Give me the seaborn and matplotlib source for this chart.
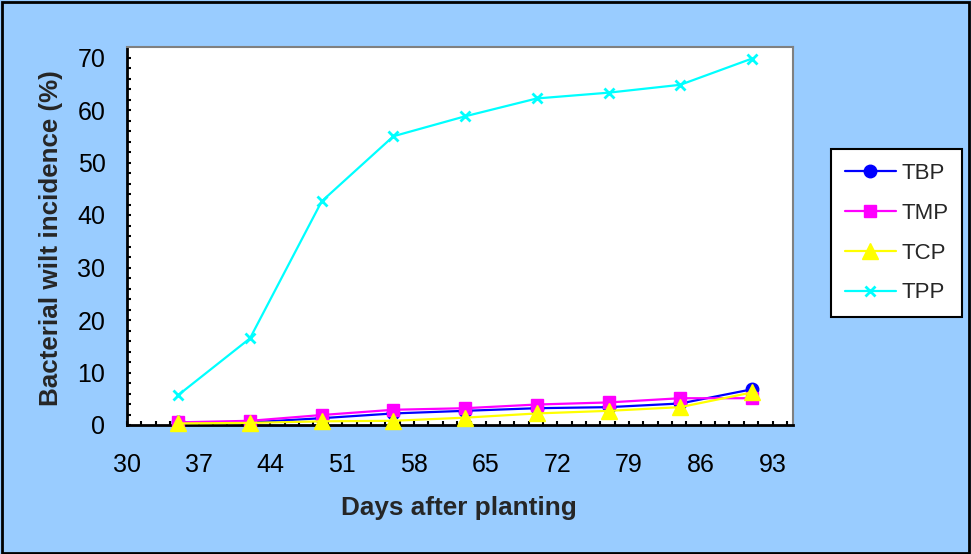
import numpy as np
import pandas as pd
import seaborn as sns
import matplotlib
matplotlib.use("Agg")
import matplotlib.pyplot as plt
from matplotlib.ticker import FixedLocator
from matplotlib.patches import Rectangle

# Days after planting and bacterial wilt incidence (%) per treatment
days = [35, 42, 49, 56, 63, 70, 77, 84, 91]
tbp = [0.5, 0.5, 1.3, 2.2, 2.7, 3.2, 3.4, 4.1, 6.8]
tmp = [0.5, 0.8, 1.9, 2.9, 3.2, 3.9, 4.3, 5.1, 5.1]
tcp = [0.3, 0.4, 0.7, 0.8, 1.4, 2.2, 2.7, 3.4, 6.2]
tpp = [5.7, 16.5, 42.6, 55.0, 58.8, 62.2, 63.3, 64.8, 69.8]

series_names = ["TBP", "TMP", "TCP", "TPP"]
series_values = [tbp, tmp, tcp, tpp]
colors = ["#0000FF", "#FF00FF", "#FFFF00", "#00FFFF"]
markers = ["o", "s", "^", "x"]
marker_sizes = [9, 8.5, 11, 7]

x_ticks = list(range(30, 94, 7))
y_ticks = list(range(0, 71, 10))

sns.set_theme(style="white")
plt.rcParams["font.family"] = ["Liberation Sans", "DejaVu Sans"]

BG = "#99CCFF"
fig = plt.figure(figsize=(9.71, 5.54), dpi=100, facecolor=BG)
ax = fig.add_axes([127 / 971, 1 - 425 / 554, (793 - 127) / 971, (425 - 47) / 554])
ax.set_facecolor("white")

for name, vals, col, mk, ms in zip(series_names, series_values, colors, markers, marker_sizes):
    df = pd.DataFrame({"day": days, "incidence": vals})
    sns.lineplot(data=df, x="day", y="incidence", ax=ax, color=col, marker=mk,
                 markersize=ms, markeredgecolor=col, markeredgewidth=2 if mk == "x" else 1,
                 linewidth=1.6, label=name, clip_on=False, zorder=3)

ax.set_xlim(30, 95)
ax.set_ylim(0, 72)
ax.xaxis.set_major_locator(FixedLocator(x_ticks))
ax.yaxis.set_major_locator(FixedLocator(y_ticks))
ax.xaxis.set_minor_locator(FixedLocator(np.arange(30, 95, 1.4)))
ax.yaxis.set_minor_locator(FixedLocator(np.arange(0, 72, 2)))
ax.xaxis.remove_overlapping_locs = False
ax.yaxis.remove_overlapping_locs = False

ax.tick_params(axis="both", which="major", direction="out", length=6.5, width=1.5,
               color="black", labelsize=18, labelcolor="black")
ax.tick_params(axis="x", which="major", pad=14)
ax.tick_params(axis="y", which="major", pad=9)
ax.tick_params(axis="both", which="minor", direction="in", length=3, width=1.5,
               color="black", bottom=True, left=True)

for side in ["left", "bottom"]:
    ax.spines[side].set_color("black")
    ax.spines[side].set_linewidth(2)
for side in ["top", "right"]:
    ax.spines[side].set_color("#808080")
    ax.spines[side].set_linewidth(1.5)

ax.set_xlabel("")
ax.set_ylabel("")
fig.text(51 / 971, 1 - 238 / 554, "Bacterial wilt incidence (%)", rotation=90,
         ha="center", va="center", fontsize=18.7, fontweight="bold")
fig.text(459 / 971, 1 - 508 / 554, "Days after planting", ha="center", va="center",
         fontsize=18.8, fontweight="bold")

leg = ax.legend(loc="upper left", bbox_to_anchor=(831 / 971, 1 - 149 / 554),
                bbox_transform=fig.transFigure, frameon=True, fancybox=False,
                fontsize=16, handlelength=2.3, handletextpad=0.25,
                labelspacing=0.85, borderpad=0.62, borderaxespad=0)
leg.get_frame().set_edgecolor("black")
leg.get_frame().set_linewidth(1.5)
leg.get_frame().set_facecolor("white")
leg.get_frame().set_alpha(1)

fig.patches.append(Rectangle((0.002, 0.002), 0.996, 0.994, transform=fig.transFigure,
                             fill=False, edgecolor="black", linewidth=2))

fig.savefig("out.png", dpi=100, facecolor=BG)
